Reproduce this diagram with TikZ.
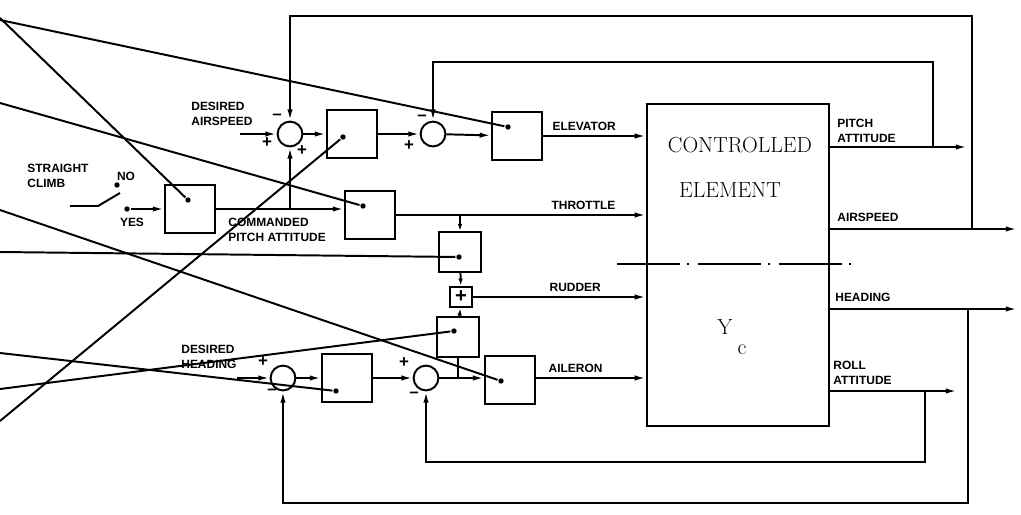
\documentclass[tikz,border=0pt]{standalone}
\usepackage{fontspec}
\setsansfont{Liberation Sans}
\usepackage{tikz}
\usetikzlibrary{arrows.meta, positioning}
\newcommand{\sigfont}{\sffamily\bfseries\fontsize{8.5}{10.5}\selectfont}
\tikzset{
  block/.style={rectangle, draw, minimum width=1.25cm, minimum height=1.2cm, inner sep=0pt},
  smallblock/.style={block, minimum width=1.03cm, minimum height=1cm},
  plusbox/.style={rectangle, draw, minimum width=0.57cm, minimum height=0.52cm, inner sep=0pt, font=\sffamily\bfseries\Large},
  sumjunc/.style={circle, draw, minimum size=0.62cm, inner sep=0pt},
  tap/.style={circle, fill, minimum size=3.8pt, inner sep=0pt},
  sig/.style={font=\sigfont, align=left, inner sep=1pt},
  sgn/.style={font=\sffamily\bfseries\large, inner sep=0pt},
  elemfont/.style={font=\fontsize{15.5}{18}\selectfont, inner sep=0pt},
  flow/.style={-{Latex[length=8pt,width=3.8pt]}},
  shortflow/.style={-{Latex[length=5pt,width=3.2pt]}},
}
\begin{document}
\begin{tikzpicture}[x=0.025cm, y=-0.025cm, line width=1.4pt]
\useasboundingbox (0,0) rectangle (1021,514);

% summing junctions
\node[sumjunc] (sa) at (290,134) {};
\node[sumjunc] (sb) at (433,134) {};
\node[sumjunc] (sc) at (283,378) {};
\node[sumjunc] (sd) at (426,378) {};

% compensation blocks
\node[block] (climb) at (190,209) {};
\node[block] (aspd) at (352,134) {};
\node[block] (elev) at (517,136) {};
\node[block] (thr) at (370,215) {};
\node[smallblock] (yawa) at (460,252) {};
\node[plusbox] (mix) at (461,297) {+};
\node[smallblock] (yawb) at (458,337) {};
\node[block] (hdg) at (347,378) {};
\node[block] (ail) at (510,380) {};

% controlled element
\node[draw, minimum width=4.55cm, minimum height=8.05cm] (ce) at (738,265) {};
\node[elemfont] at (740,145) {CONTROLLED};
\node[elemfont] at (730,190) {ELEMENT};
\node[elemfont] (ysym) at (725,327) {Y};
\node[elemfont] (ysub) at (742,350) {c};
\coordinate (cutl) at (617,264);
\coordinate (cutr) at (853,264);
\draw[line width=1.3pt, dash pattern=on 45pt off 5pt on 1.5pt off 6pt] (cutl) -- (cutr);

% straight climb switch
\node[sig, anchor=west] at (25,176) {STRAIGHT\\CLIMB};
\coordinate (sw0) at (70,206);
\coordinate (sw1) at (98,206);
\coordinate (sw2) at (120,193);
\draw (sw0) -- (sw1) -- (sw2);
\node[tap] (no) at (117,185) {};
\node[sig] at (126,176) {NO};
\node[tap] (yes) at (127,209) {};
\node[sig] at (132,222) {YES};
\draw[flow] (yes) -- (climb.west);

% pitch / airspeed loops
\coordinate (aspdin) at (240,134);
\node[sig, anchor=west] at (189,114) {DESIRED\\AIRSPEED};
\draw[flow] (aspdin) -- (sa.west);
\draw[flow] (sa) -- (aspd);
\draw[flow] (aspd) -- (sb);
\draw[flow] (sb) -- (elev);
\draw[flow] (elev.east) -- (elev.east -| ce.west) node[sig, pos=0.4, above=2pt] {ELEVATOR};
\draw[flow] (climb.east) -- (thr.west |- climb.east);
\node[sig, anchor=west] at (226,230) {COMMANDED\\PITCH ATTITUDE};
\draw[flow] (sa |- climb.east) -- (sa.south);
\draw[flow] (thr.east) -- (thr.east -| ce.west) node[sig, pos=0.75, above=2pt] {THROTTLE};

% lateral loops
\coordinate (hdgin) at (237,378);
\node[sig, anchor=west] at (179,357) {DESIRED\\HEADING};
\draw[flow] (hdgin) -- (sc.west);
\draw[flow] (sc) -- (hdg);
\draw[flow] (hdg) -- (sd);
\draw[flow] (sd) -- (ail.west |- sd.east);
\draw (yawb.south) -- (yawb.south |- sd.east);
\draw[flow] (ail.east |- sd.east) -- (ce.west |- sd.east) node[sig, pos=0.36, above=2pt] {AILERON};
\draw[shortflow] (yawa.north |- thr.east) -- (yawa.north);
\draw[shortflow] (yawa) -- (mix);
\draw[shortflow] (yawb) -- (mix);
\draw[flow] (mix) -- (mix -| ce.west) node[sig, pos=0.59, above=2pt] {RUDDER};

% outputs and feedback
\coordinate (pitch) at (829,147);   \coordinate (pitchtap) at (933,147); \coordinate (pitchend) at (967,147);
\coordinate (speed) at (829,229);   \coordinate (speedtap) at (972,229); \coordinate (speedend) at (1017,229);
\coordinate (head) at (829,309);    \coordinate (headtap) at (968,309);  \coordinate (headend) at (1017,309);
\coordinate (roll) at (829,391);    \coordinate (rolltap) at (925,391);  \coordinate (rollend) at (957,391);
\draw[flow] (pitch) -- (pitchend);
\draw[flow] (speed) -- (speedend);
\draw[flow] (head) -- (headend);
\draw[flow] (roll) -- (rollend);
\node[sig, anchor=west] at (835,131) {PITCH\\ATTITUDE};
\node[sig, anchor=west] at (835,217) {AIRSPEED};
\node[sig, anchor=west] at (833,297) {HEADING};
\node[sig, anchor=west] at (831,373) {ROLL\\ATTITUDE};
\draw[flow] (pitchtap) -- (933,62) -| (sb.north);
\draw[flow] (speedtap) -- (972,16) -| (sa.north);
\draw[flow] (headtap) -- (968,503) -| (sc.south);
\draw[flow] (rolltap) -- (925,462) -| (sd.south);

% signs
\node[sgn] at (277,117) {–};
\node[sgn] at (267,143) {+};
\node[sgn] at (302,151) {+};
\node[sgn] at (422,118) {–};
\node[sgn] at (409,146) {+};
\node[sgn] at (263,362) {+};
\node[sgn] at (272,392) {–};
\node[sgn] at (404,363) {+};
\node[sgn] at (414,395) {–};

% adjustment taps in the blocks
\node[tap] (climbdot) at (188,200) {};
\node[tap] (elevdot) at (508,127) {};
\node[tap] (thrdot) at (363,206) {};
\node[tap] (aildot) at (501,381) {};
\node[tap] (yawadot) at (459,257) {};
\node[tap] (aspddot) at (343,137) {};
\node[tap] (hdgdot) at (336,391) {};
\node[tap] (yawbdot) at (454,331) {};
\foreach \d/\y in {climbdot/18, elevdot/20, thrdot/103, aildot/210, yawadot/252, aspddot/421, hdgdot/353, yawbdot/389} {
  \coordinate (src) at (0,\y);
  \draw (src) -- (\d);
}
\end{tikzpicture}
\end{document}
